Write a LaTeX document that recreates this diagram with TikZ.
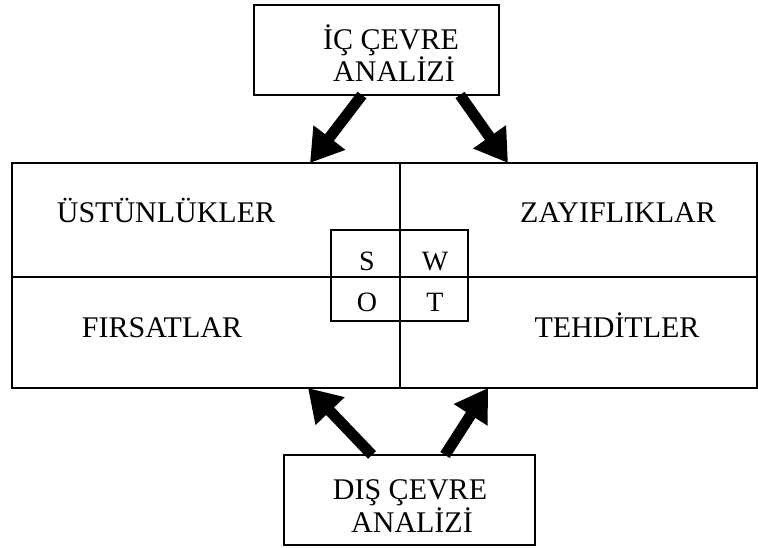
\documentclass[tikz,border=0pt]{standalone}
\usepackage{fontspec}
\setmainfont{Liberation Serif}
\usetikzlibrary{arrows.meta,calc}
\begin{document}
\begin{tikzpicture}[x=1pt,y=-1pt,
  frame/.style={draw, line width=1.5pt, rectangle, inner sep=0pt, outer sep=0pt},
  label/.style={font=\fontsize{30}{30}\selectfont, inner sep=0pt, anchor=base},
  letter/.style={font=\fontsize{28}{28}\selectfont, inner sep=0pt, anchor=base},
  bigarrow/.style={line width=11pt, -{Triangle[length=32pt,width=38pt]}}]
\useasboundingbox (0,0) rectangle (758,548);

% analysis boxes
\node[frame, minimum width=245pt, minimum height=90pt] (icbox) at (376.5,50) {};
\node[frame, minimum width=251pt, minimum height=90pt] (dsbox) at (409.5,500) {};
\node[label] (ic1) at (391,50) {İÇ ÇEVRE};
\node[label] (ic2) at (394,82) {ANALİZİ};
\node[label] (ds1) at (410,499) {DIŞ ÇEVRE};
\node[label] (ds2) at (412,532) {ANALİZİ};

% SWOT quadrants
\node[frame, minimum width=388pt, minimum height=114pt] (sq) at (206,220) {};
\node[frame, minimum width=357pt, minimum height=114pt] (wq) at (578.5,220) {};
\node[frame, minimum width=388pt, minimum height=111pt] (oq) at (206,332.5) {};
\node[frame, minimum width=357pt, minimum height=111pt] (tq) at (578.5,332.5) {};
\node[label] (st) at (166,223) {ÜSTÜNLÜKLER};
\node[label] (wk) at (618,223) {ZAYIFLIKLAR};
\node[label] (op) at (162,337) {FIRSATLAR};
\node[label] (th) at (617,337) {TEHDİTLER};

% central letter grid
\node[frame, minimum width=69pt, minimum height=47pt] (scell) at (365.5,253.5) {};
\node[frame, minimum width=68pt, minimum height=47pt] (wcell) at (434,253.5) {};
\node[frame, minimum width=69pt, minimum height=44pt] (ocell) at (365.5,299) {};
\node[frame, minimum width=68pt, minimum height=44pt] (tcell) at (434,299) {};
\node[letter] (ls) at (367,270) {S};
\node[letter] (lw) at (435,270) {W};
\node[letter] (lo) at (367,312) {O};
\node[letter] (lt) at (435,312) {T};

% arrows
\draw[bigarrow] ([xshift=-14.5pt]icbox.south) -- ([xshift=104pt]sq.north);
\draw[bigarrow] ([xshift=83.5pt]icbox.south) -- ([xshift=-70.5pt]wq.north);
\draw[bigarrow] ([xshift=-37.5pt]dsbox.north) -- ([xshift=102pt]oq.south);
\draw[bigarrow] ([xshift=35.5pt]dsbox.north) -- ([xshift=-90.5pt]tq.south);
\end{tikzpicture}
\end{document}
